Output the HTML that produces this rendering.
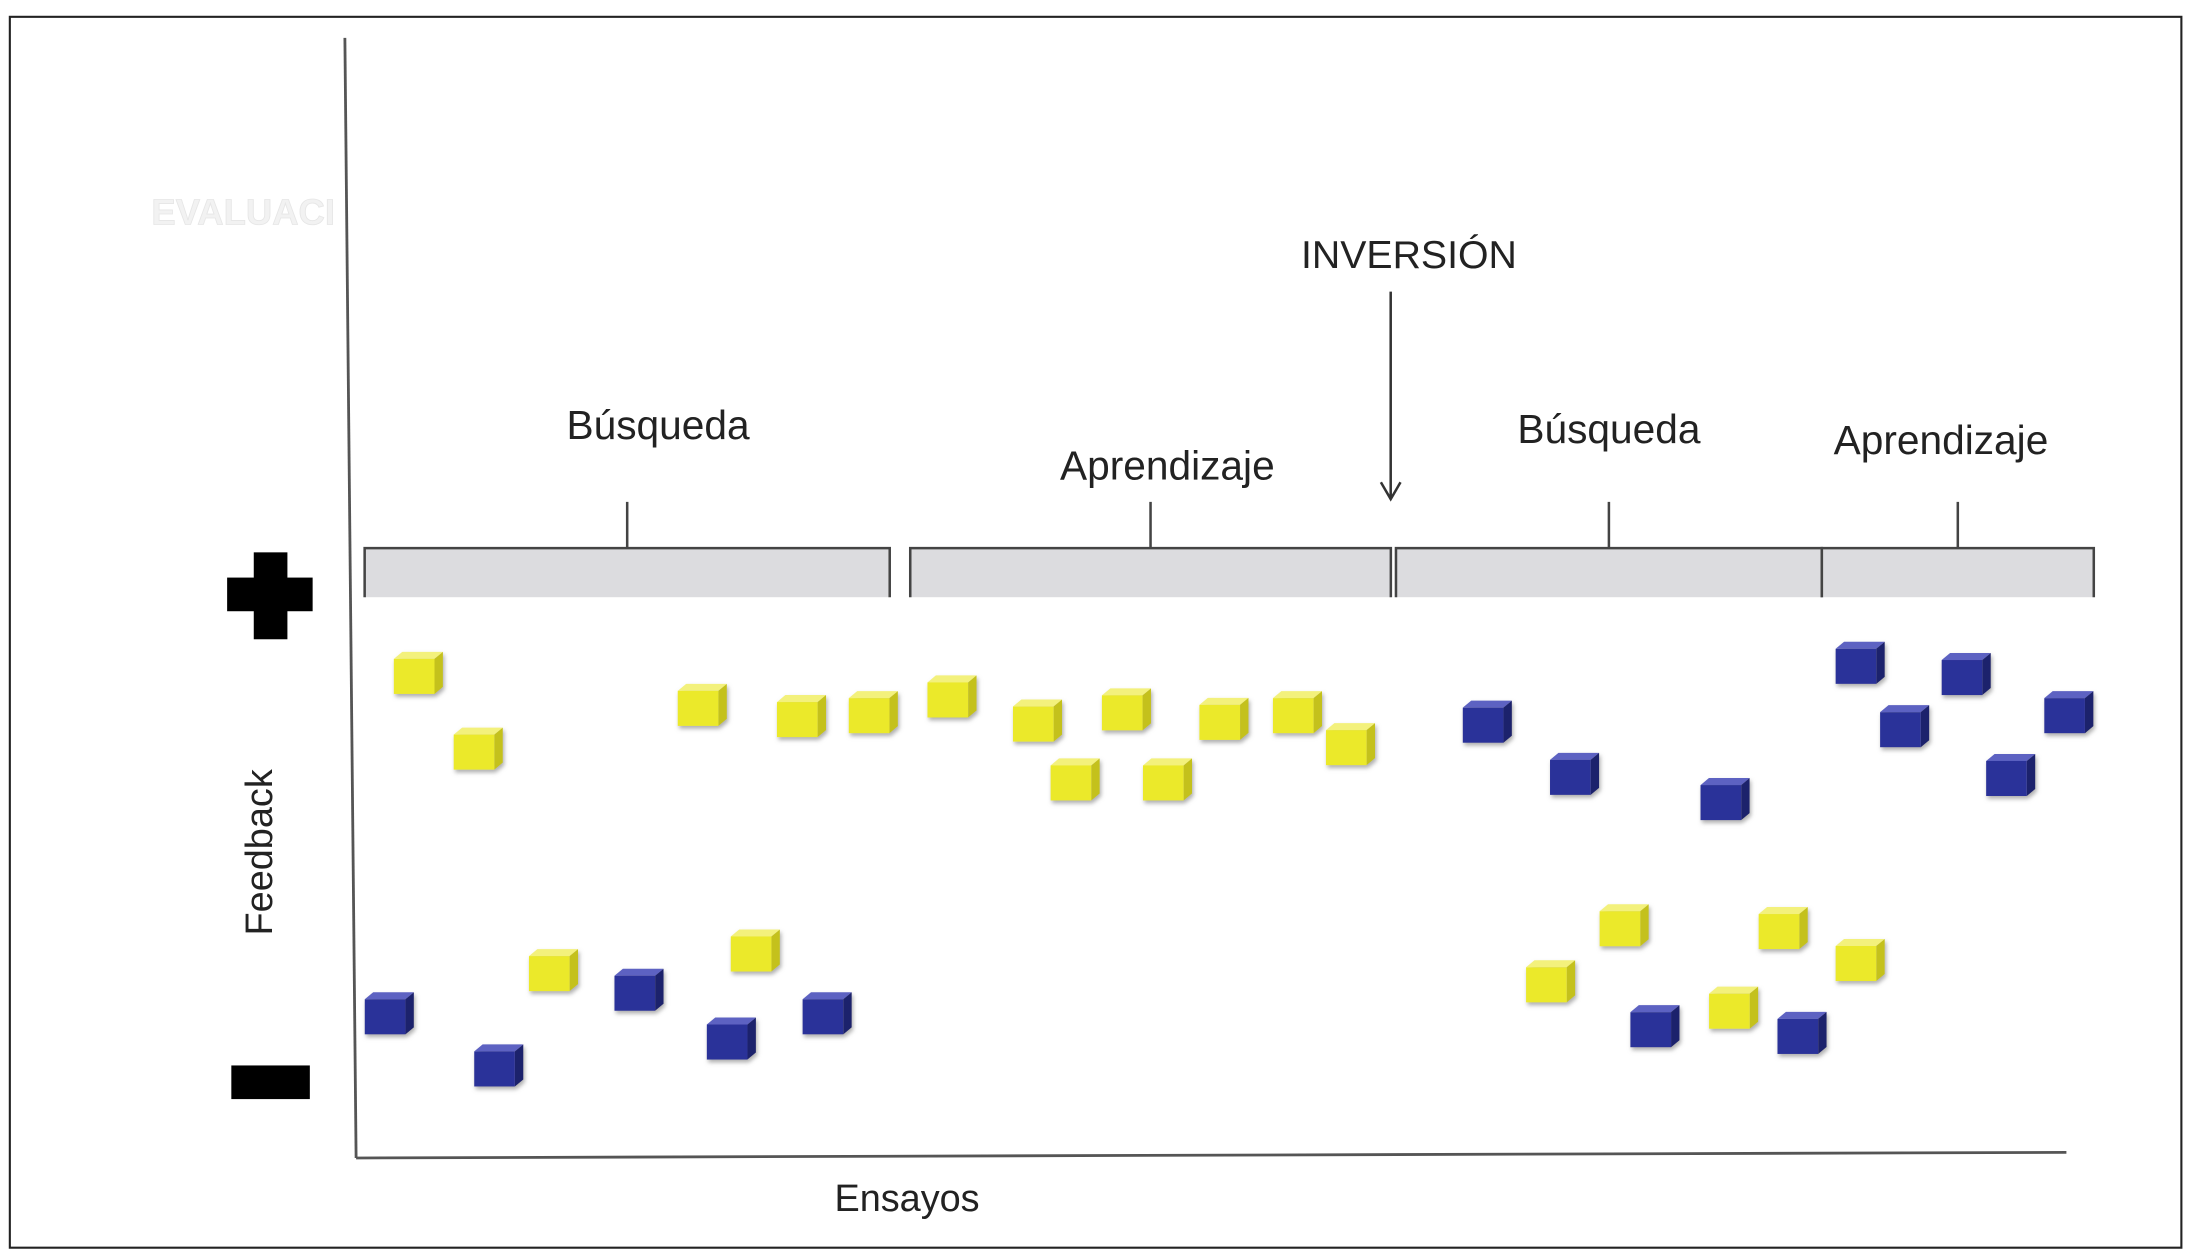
<!DOCTYPE html>
<html><head><meta charset="utf-8"><style>
html,body{margin:0;padding:0;background:#fff;}
svg{display:block;font-family:"Liberation Sans",Arial,sans-serif;}
</style></head><body>
<svg id="chart" width="2187" height="1254" viewBox="0 0 1560 894.5" xmlns="http://www.w3.org/2000/svg">
<defs><filter id="sh" x="-30%" y="-30%" width="160%" height="160%"><feDropShadow dx="1" dy="2" stdDeviation="1.5" flood-color="#777" flood-opacity="0.6"/></filter></defs>
<rect x="7" y="12" width="1549" height="878" fill="#fff" stroke="#222" stroke-width="1.5"/>
<text x="108" y="160" font-size="26" font-weight="bold" fill="#f2f2f2" stroke="#e6e6e6" stroke-width="0.6">EVALUACI</text>
<line x1="246" y1="27" x2="254" y2="826" stroke="#555" stroke-width="2"/>
<line x1="254" y1="826" x2="1474" y2="822" stroke="#555" stroke-width="2"/>
<g fill="#000"><rect x="181" y="394" width="24" height="62"/><rect x="162" y="412" width="61" height="24"/></g>
<rect x="165" y="760" width="56" height="24" fill="#000"/>
<text transform="translate(194,608) rotate(-90)" text-anchor="middle" font-size="27" fill="#222">Feedback</text>
<text x="647" y="864" text-anchor="middle" font-size="27" fill="#222">Ensayos</text>
<text x="1005" y="191" text-anchor="middle" font-size="28" fill="#222">INVERSIÓN</text>
<g stroke="#333" stroke-width="1.8" fill="none"><line x1="992" y1="208" x2="992" y2="356"/><polyline points="985,344 992,356 999,344"/></g>
<g id="phases"></g>
<g id="marks"></g>
</svg>
<script>
// Phases (trial domain 0..100)
const phaseNames = ["Búsqueda","Aprendizaje","Búsqueda","Aprendizaje"];
const phaseStart = [0.5, 32.4, 60.8, 85.7];
const phaseEnd = [31.2, 60.5, 85.7, 101.6];
const phaseLabelY = [128.25, 121, 127.5, 125.5];
// Yellow cubes
const yellowTrial = [3.6,7.1,20.2,26,30.2,34.8,39.8,45,50.7,55,58.1,42,47.4,11.5,23.3,69.8,74.1,80.5,83.4,87.9];
const yellowFeedback = [86.5,73,80.8,78.8,79.5,82.3,78,80,78.3,79.5,73.8,67.5,67.5,33.5,37,31.5,41.5,26.8,41,35.3];
// Blue cubes
const blueTrial = [1.9,8.3,16.5,21.9,27.5,66.1,71.2,80,75.9,84.5,87.9,90.5,94.1,96.7,100.1];
const blueFeedback = [25.8,16.5,30,21.3,25.8,77.8,68.5,64,23.5,22.3,88.3,77,86.3,68.3,79.5];

const xS = t => 254 + t * 12.2;
const yS = f => 826 - f * 4;
const NS = "http://www.w3.org/2000/svg";
function mk(tag, attrs, parent){const e=document.createElementNS(NS,tag);for(const k in attrs)e.setAttribute(k,attrs[k]);parent.appendChild(e);return e;}

const labelShift = [22, 12, 0, -12];
const pg = document.getElementById('phases');
phaseNames.forEach((n,i)=>{
  const x0 = xS(phaseStart[i]), x1 = xS(phaseEnd[i]);
  const g = mk('g',{},pg);
  
  
  mk('rect',{x:x0,y:391,width:x1-x0,height:35,fill:'#dcdcdf',stroke:'none'},g);
  mk('polyline',{points:`${x0},426 ${x0},391 ${x1},391 ${x1},426`,fill:'none',stroke:'#444','stroke-width':1.8},g);
  const cx=(x0+x1)/2;
  mk('line',{x1:cx,y1:358,x2:cx,y2:391,stroke:'#444','stroke-width':1.8},g);
  const t = mk('text',{x:cx+labelShift[i],y:yS(phaseLabelY[i]),'text-anchor':'middle','font-size':29,fill:'#222'},g);
  t.textContent = n;
  
  
});

const mg = document.getElementById('marks');
function cube(cx,cy,c,name){
  const g = mk('g',{filter:'url(#sh)'},mg);
  
  
  mk('polygon',{points:`${cx-17},${cy-10} ${cx-11},${cy-15} ${cx+18},${cy-15} ${cx+12},${cy-10}`,fill:c[1]},g);
  mk('polygon',{points:`${cx+12},${cy-10} ${cx+18},${cy-15} ${cx+18},${cy+10} ${cx+12},${cy+15}`,fill:c[2]},g);
  mk('rect',{x:cx-17,y:cy-10,width:29,height:25,fill:c[0]},g);
}
const yc=['#ebe92c','#f3f17c','#c4c11e'], bc=['#2c3299','#5d62c2','#1c206c'];
yellowTrial.forEach((t,i)=>cube(xS(t),yS(yellowFeedback[i]),yc,'yellow-cube'));
blueTrial.forEach((t,i)=>cube(xS(t),yS(blueFeedback[i]),bc,'blue-cube'));
</script>
</body></html>
